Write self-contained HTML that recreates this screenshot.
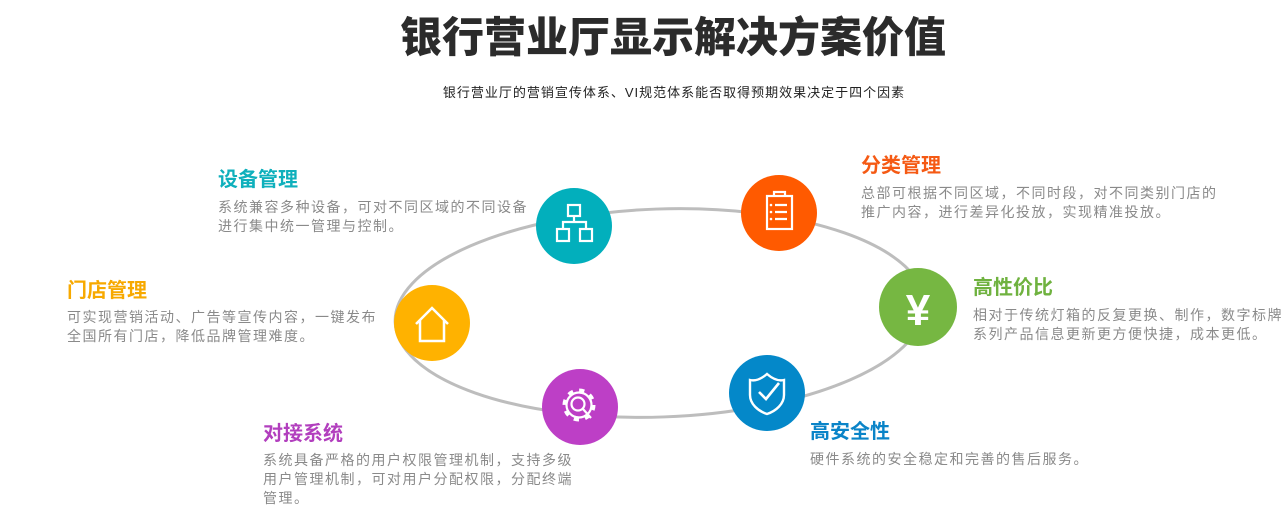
<!DOCTYPE html>
<html><head><meta charset="utf-8"><style>
body{margin:0;width:1286px;height:524px;background:#fff;position:relative;overflow:hidden;font-family:"Liberation Sans","Noto Sans CJK SC",sans-serif}
.a{position:absolute;white-space:nowrap}
.t{font-size:20px;font-weight:bold;line-height:24px}
.b{font-size:14px;color:#8a8a8a;line-height:19px;letter-spacing:1.5px}
</style></head><body>
<div class="a" style="left:0;width:1346px;top:12px;text-align:center;font-size:42px;font-weight:900;color:#2b2b2b;line-height:52px">银行营业厅显示解决方案价值</div>
<div class="a" style="left:0;width:1348px;top:84px;text-align:center;font-size:13px;color:#222;line-height:17px;letter-spacing:1px">银行营业厅的营销宣传体系、VI规范体系能否取得预期效果决定于四个因素</div>
<svg class="a" style="left:0;top:0" width="1286" height="524">
<ellipse cx="660" cy="313" rx="265" ry="104" fill="none" stroke="#bdbdbd" stroke-width="3" transform="rotate(-2 660 313)"/>
<circle cx="432" cy="323" r="38" fill="#ffb200"/>
<path d="M416 324 L432 308 L448 324 M420 320 V341 H444 V320" fill="none" stroke="#fff" stroke-width="2.5"/>
<circle cx="574" cy="226" r="38" fill="#02afbc"/>
<g fill="none" stroke="#fff" stroke-width="2.2"><rect x="568" y="205" width="12" height="11"/><rect x="557" y="229" width="12" height="12"/><rect x="580" y="229" width="12" height="12"/><path d="M574 216 V222 M563 229 V222 H586 V229"/></g>
<circle cx="779" cy="213" r="38" fill="#ff5a00"/>
<g fill="none" stroke="#fff" stroke-width="2.2"><rect x="767" y="196" width="25" height="33"/><path d="M774 196 V192 H785 V196"/><path d="M775 205 H787 M775 212 H787 M775 219 H787"/></g>
<g fill="#fff"><circle cx="771" cy="205" r="1.3"/><circle cx="771" cy="212" r="1.3"/><circle cx="771" cy="219" r="1.3"/></g>
<circle cx="918" cy="307" r="39" fill="#76b742"/>
<text x="918" y="325" font-size="44" font-weight="bold" fill="#fff" text-anchor="middle" font-family="Liberation Sans,sans-serif">¥</text>
<circle cx="767" cy="393" r="38" fill="#0488c9"/>
<path d="M767 374 C760 380 754 381 750 380 V395 C750 404 758 411 767 414 C776 411 784 404 784 395 V380 C780 381 774 380 767 374Z" fill="none" stroke="#fff" stroke-width="2.4"/>
<path d="M759 392 L766 399 L779 383" fill="none" stroke="#fff" stroke-width="2.6"/>
<circle cx="580" cy="407" r="38" fill="#bd3fc6"/>
<g fill="none" stroke="#fff" stroke-width="2.2">
<circle cx="579" cy="405" r="14" stroke-width="5" stroke-dasharray="5 6"/>
<circle cx="579" cy="405" r="12.5"/>
<circle cx="578" cy="404" r="6.5"/><path d="M583 409 L591 418"/></g>
</svg>
<div class="a t" style="left:218px;top:168px;color:#0fb0bc">设备管理</div>
<div class="a b" style="left:218px;top:198px">系统兼容多种设备，可对不同区域的不同设备<br>进行集中统一管理与控制。</div>
<div class="a t" style="left:67px;top:279px;color:#f7a900">门店管理</div>
<div class="a b" style="left:67px;top:308px">可实现营销活动、广告等宣传内容，一键发布<br>全国所有门店，降低品牌管理难度。</div>
<div class="a t" style="left:263px;top:422px;color:#b23fbe">对接系统</div>
<div class="a b" style="left:263px;top:451px">系统具备严格的用户权限管理机制，支持多级<br>用户管理机制，可对用户分配权限，分配终端<br>管理。</div>
<div class="a t" style="left:861px;top:154px;color:#f55a14">分类管理</div>
<div class="a b" style="left:861px;top:184px">总部可根据不同区域，不同时段，对不同类别门店的<br>推广内容，进行差异化投放，实现精准投放。</div>
<div class="a t" style="left:973px;top:276px;color:#6fb23f">高性价比</div>
<div class="a b" style="left:973px;top:306px">相对于传统灯箱的反复更换、制作，数字标牌<br>系列产品信息更新更方便快捷，成本更低。</div>
<div class="a t" style="left:810px;top:420px;color:#0a84c8">高安全性</div>
<div class="a b" style="left:810px;top:450px">硬件系统的安全稳定和完善的售后服务。</div>
</body></html>
